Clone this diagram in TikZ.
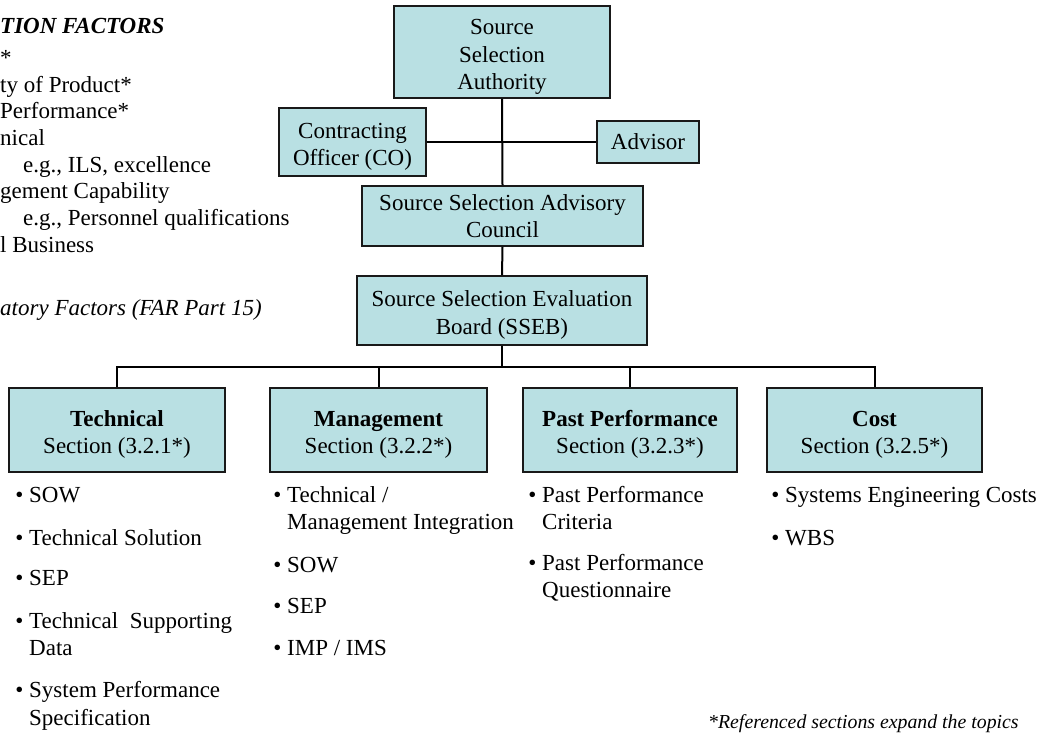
\documentclass[tikz,border=0pt]{standalone}
\usepackage{fontspec}
\setmainfont{Liberation Serif}
\usetikzlibrary{positioning}
\definecolor{boxfill}{RGB}{185,224,227}
\tikzset{% boxes and lines of the chart
        orgbox/.style={draw=black!90, line width=1.8pt, fill=boxfill, align=center, inner sep=0pt},
        orgline/.style={line width=2pt},
        txt/.style={anchor=base west, inner sep=0pt}
        }
\newcommand{\bul}{\llap{\textbullet\ }}
\newcommand{\lowtop}{\rule{0pt}{25pt}}% pushes first line of a box down a bit

\begin{document}
\begin{tikzpicture}[x=1pt,y=-1pt,font=\fontsize{23}{27.5}\selectfont]
\useasboundingbox (0,0) rectangle (1047,736);

% factors list (left edge)
\node[txt,font=\fontsize{23}{27.5}\selectfont\bfseries\itshape] (fhead) at (0,33) {TION FACTORS};
\node[txt] (f0) at (0,65) {*};
\node[txt] (f1) at (0,92) {ty of Product*};
\node[txt] (f2) at (0,118) {Performance*};
\node[txt] (f3) at (0,145) {nical};
\node[txt] (f3b) at (23,172) {e.g., ILS, excellence};
\node[txt] (f4) at (0,198) {gement Capability};
\node[txt] (f4b) at (23,225) {e.g., Personnel qualifications};
\node[txt] (f5) at (0,252) {l Business};
\node[txt,font=\fontsize{23}{27.5}\selectfont\itshape] (fnote) at (0,315) {atory Factors (FAR Part 15)};

% chart boxes
\node[orgbox, minimum width=216, minimum height=92] (ssa) at (502,52) {\lowtop Source\\Selection\\Authority};
\node[orgbox, minimum width=147, minimum height=68] (co) at (352.5,142) {\lowtop Contracting\\Officer (CO)};
\node[orgbox, minimum width=102, minimum height=42] (adv) at (648,142) {Advisor};
\node[orgbox, minimum width=281, minimum height=60] (ssac) at (502.5,216) {Source Selection Advisory\\Council};
\node[orgbox, minimum width=290, minimum height=69] (sseb) at (502,310.5) {\lowtop Source Selection Evaluation\\Board (SSEB)};

\node[orgbox, minimum width=216, minimum height=84] (tech) at (117,430) {\lowtop\textbf{Technical}\\Section (3.2.1*)};
\node[orgbox, minimum width=217, minimum height=84] (mgmt) at (378.5,430) {\lowtop\textbf{Management}\\Section (3.2.2*)};
\node[orgbox, minimum width=214, minimum height=84] (past) at (630,430) {\lowtop\textbf{Past Performance}\\Section (3.2.3*)};
\node[orgbox, minimum width=215, minimum height=84] (cost) at (874.5,430) {\lowtop\textbf{Cost}\\Section (3.2.5*)};

% connectors
\coordinate (bus) at (502,367);
\draw[orgline] (ssa.south) -- (ssac.north);
\draw[orgline] (co.east) -- (adv.west);
\draw[orgline] (ssac.south) -- (sseb.north);
\draw[orgline] (sseb.south) -- (sseb.south |- bus);
\draw[orgline] (tech.north) |- (bus) -| (cost.north);
\draw[orgline] (mgmt.north) -- (mgmt.north |- bus);
\draw[orgline] (past.north) -- (past.north |- bus);

% topics under each section
\node[txt] (t1) at (29,502) {\bul SOW};
\node[txt] (t2) at (29,545) {\bul Technical Solution};
\node[txt] (t3) at (29,585) {\bul SEP};
\node[txt] (t4) at (29,628) {\bul Technical\ \ Supporting};
\node[txt] (t4b) at (29,655) {Data};
\node[txt] (t5) at (29,697) {\bul System Performance};
\node[txt] (t5b) at (29,725) {Specification};

\node[txt] (m1) at (287,502) {\bul Technical /};
\node[txt] (m1b) at (287,529) {Management Integration};
\node[txt] (m2) at (287,572) {\bul SOW};
\node[txt] (m3) at (287,613) {\bul SEP};
\node[txt] (m4) at (287,655) {\bul IMP / IMS};

\node[txt] (p1) at (542,502) {\bul Past Performance};
\node[txt] (p1b) at (542,529) {Criteria};
\node[txt] (p2) at (542,570) {\bul Past Performance};
\node[txt] (p2b) at (542,597) {Questionnaire};

\node[txt] (c1) at (785,502) {\bul Systems Engineering Costs};
\node[txt] (c2) at (785,545) {\bul WBS};

\node[txt,font=\fontsize{19.8}{24}\selectfont\itshape] (refnote) at (708,728) {*Referenced sections expand the topics};
\end{tikzpicture}
\end{document}
